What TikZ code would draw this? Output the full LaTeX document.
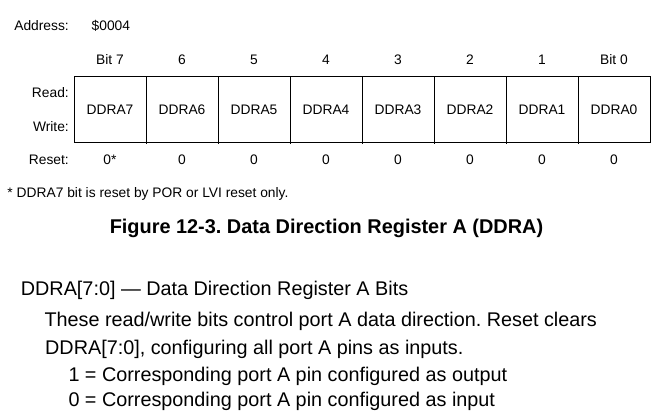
\documentclass[tikz,border=0pt]{standalone}
\usepackage{fontspec}
\setmainfont{Liberation Sans}
\usepackage{tikz}
\frenchspacing

\begin{document}
\begin{tikzpicture}[x=1pt,y=-1pt,
    reg/.style={font=\fontsize{13.8}{16}\selectfont, inner sep=0pt},
    cell/.style={reg, draw, line width=0.8pt, minimum width=72pt, minimum height=65.5pt},
    body/.style={font=\fontsize{19.8}{24}\selectfont, inner sep=0pt, anchor=base west}]
  \useasboundingbox (0,0) rectangle (667,420);

      % ADRESSE
      \node[reg, anchor=base east] (addr) at (69,31) {Address:};
      \node[reg, anchor=base west] (addrval) at (91.5,31) {\$0004};

      % LIGNES GAUCHE
      \node[reg, anchor=base east] (read) at (69,97) {Read:};
      \node[reg, anchor=base east] (write) at (69,131) {Write:};
      \node[reg, anchor=base east] (reset) at (69,164) {Reset:};

      % CASES DU REGISTRE
      \foreach \i in {7,...,0}
        \node[cell] (c\i) at ({110+72*(7-\i)},109.5) {DDRA\i};
      \foreach \i in {7,...,1}
        \draw[line width=0.8pt] (c\i.south east) -- ++(0,1.5);

      % NUMEROS DE BITS
      \foreach \i/\txt in {7/Bit 7,6/6,5/5,4/4,3/3,2/2,1/1,0/Bit 0}
        \node[reg, anchor=base] (b\i) at ({110+72*(7-\i)},64.3) {\txt};

      % VALEURS RESET
      \foreach \i/\txt in {7/0*,6/0,5/0,4/0,3/0,2/0,1/0,0/0}
        \node[reg, anchor=base] (r\i) at ({110+72*(7-\i)},164) {\txt};

      % NOTE
      \node[reg, anchor=base west] (note) at (7.3,197) {* DDRA7 bit is reset by POR or LVI reset only.};

      % LEGENDE
      \node[font=\bfseries\fontsize{19.9}{24}\selectfont, inner sep=0pt, anchor=base] (caption) at (326.5,233)
        {Figure 12-3. Data Direction Register A (DDRA)};

      % TEXTE
      \node[body] (title) at (20.7,295) {DDRA[7:0] — Data Direction Register A Bits};
      \node[body] (desc1) at (44.3,326.7) {These read/write bits control port A data direction. Reset clears};
      \node[body] (desc2) at (45,354) {DDRA[7:0], configuring all port A pins as inputs.};
      \node[body] (one) at (68.3,381.7) {1 = Corresponding port A pin configured as output};
      \node[body] (zero) at (68.3,406.7) {0 = Corresponding port A pin configured as input};

\end{tikzpicture}
\end{document}
